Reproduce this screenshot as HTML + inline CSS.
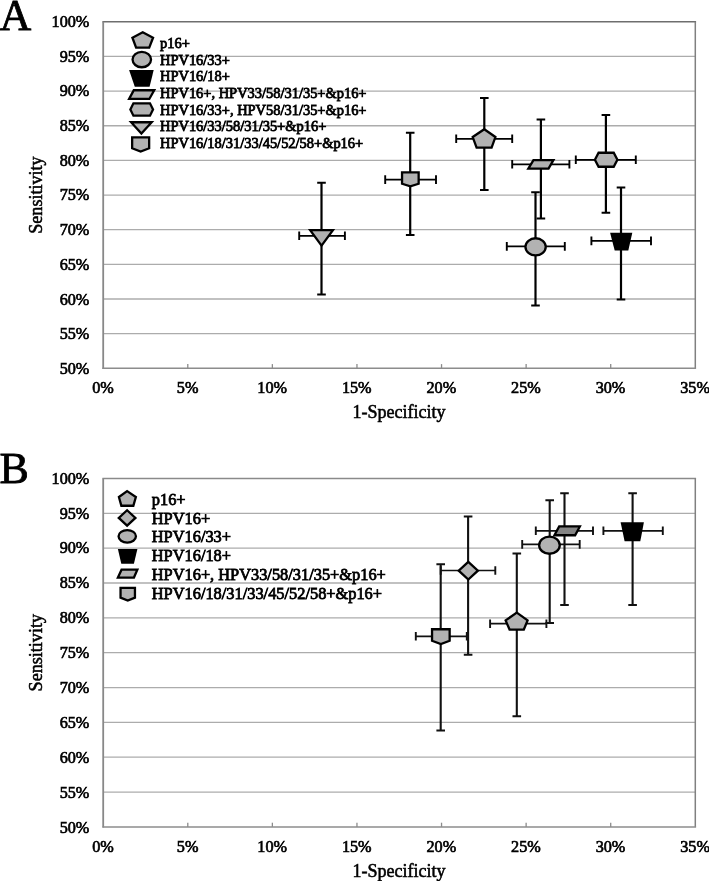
<!DOCTYPE html><html><head><meta charset="utf-8"><title>Figure</title><style>
html,body{margin:0;padding:0;background:#fff}body{width:709px;height:881px;overflow:hidden;position:relative}
svg{position:absolute;left:0;top:0;display:block}
text{font-family:"Liberation Serif",serif;fill:#000;stroke:#000;stroke-width:0.25px}
.tk{font-size:16.2px;stroke-width:0.65px}.ti{font-size:18px;stroke-width:0.55px}.lg{font-size:14.45px;stroke-width:0.8px}.lgb{font-size:16.38px;stroke-width:0.8px}.pl{font-size:44px;stroke-width:0.8px}
</style></head><body>
<svg width="709" height="881" viewBox="0 0 709 881">
<rect width="709" height="881" fill="#fff"/>
<line x1="103.2" y1="56.45" x2="695.3" y2="56.45" stroke="#acacac" stroke-width="1.3"/>
<line x1="103.2" y1="91.10" x2="695.3" y2="91.10" stroke="#acacac" stroke-width="1.3"/>
<line x1="103.2" y1="125.75" x2="695.3" y2="125.75" stroke="#acacac" stroke-width="1.3"/>
<line x1="103.2" y1="160.40" x2="695.3" y2="160.40" stroke="#acacac" stroke-width="1.3"/>
<line x1="103.2" y1="195.05" x2="695.3" y2="195.05" stroke="#acacac" stroke-width="1.3"/>
<line x1="103.2" y1="229.70" x2="695.3" y2="229.70" stroke="#acacac" stroke-width="1.3"/>
<line x1="103.2" y1="264.35" x2="695.3" y2="264.35" stroke="#acacac" stroke-width="1.3"/>
<line x1="103.2" y1="299.00" x2="695.3" y2="299.00" stroke="#acacac" stroke-width="1.3"/>
<line x1="103.2" y1="333.65" x2="695.3" y2="333.65" stroke="#acacac" stroke-width="1.3"/>
<line x1="102.4" y1="21.80" x2="696.0999999999999" y2="21.80" stroke="#6e6e6e" stroke-width="1.6"/>
<line x1="695.3" y1="21.80" x2="695.3" y2="368.30" stroke="#808080" stroke-width="1.5"/>
<line x1="103.2" y1="21.80" x2="103.2" y2="369.00" stroke="#888" stroke-width="1.8"/>
<line x1="102.4" y1="368.30" x2="696.0999999999999" y2="368.30" stroke="#8c8c8c" stroke-width="1.5"/>
<line x1="187.79" y1="364.10" x2="187.79" y2="368.30" stroke="#8c8c8c" stroke-width="1.3"/>
<line x1="272.37" y1="364.10" x2="272.37" y2="368.30" stroke="#8c8c8c" stroke-width="1.3"/>
<line x1="356.96" y1="364.10" x2="356.96" y2="368.30" stroke="#8c8c8c" stroke-width="1.3"/>
<line x1="441.54" y1="364.10" x2="441.54" y2="368.30" stroke="#8c8c8c" stroke-width="1.3"/>
<line x1="526.13" y1="364.10" x2="526.13" y2="368.30" stroke="#8c8c8c" stroke-width="1.3"/>
<line x1="610.71" y1="364.10" x2="610.71" y2="368.30" stroke="#8c8c8c" stroke-width="1.3"/>
<text x="89.3" y="26.95" text-anchor="end" class="tk">100%</text>
<text x="89.3" y="61.65" text-anchor="end" class="tk">95%</text>
<text x="89.3" y="96.35" text-anchor="end" class="tk">90%</text>
<text x="89.3" y="131.05" text-anchor="end" class="tk">85%</text>
<text x="89.3" y="165.75" text-anchor="end" class="tk">80%</text>
<text x="89.3" y="200.45" text-anchor="end" class="tk">75%</text>
<text x="89.3" y="235.15" text-anchor="end" class="tk">70%</text>
<text x="89.3" y="269.85" text-anchor="end" class="tk">65%</text>
<text x="89.3" y="304.55" text-anchor="end" class="tk">60%</text>
<text x="89.3" y="339.25" text-anchor="end" class="tk">55%</text>
<text x="89.3" y="373.95" text-anchor="end" class="tk">50%</text>
<text x="103.00" y="393.00" text-anchor="middle" class="tk">0%</text>
<text x="187.59" y="393.00" text-anchor="middle" class="tk">5%</text>
<text x="272.17" y="393.00" text-anchor="middle" class="tk">10%</text>
<text x="356.76" y="393.00" text-anchor="middle" class="tk">15%</text>
<text x="441.34" y="393.00" text-anchor="middle" class="tk">20%</text>
<text x="525.93" y="393.00" text-anchor="middle" class="tk">25%</text>
<text x="610.51" y="393.00" text-anchor="middle" class="tk">30%</text>
<text x="695.10" y="393.00" text-anchor="middle" class="tk">35%</text>
<text x="399.1" y="418.00" text-anchor="middle" class="ti">1-Specificity</text>
<text transform="translate(42.0,195.05) rotate(-90)" text-anchor="middle" class="ti" style="font-size:18.1px">Sensitivity</text>
<text x="-0.5" y="29.7" class="pl">A</text>
<g stroke="#000" fill="none">
<path d="M410.20 132.70V234.90" stroke-width="2.2"/>
<path d="M405.90 132.70H414.50M405.90 234.90H414.50" stroke-width="2.0"/>
<path d="M385.20 179.60H436.00" stroke-width="1.8"/>
<path d="M385.20 175.30V183.90M436.00 175.30V183.90" stroke-width="1.9"/>
</g>
<g stroke="#000" fill="none">
<path d="M321.50 182.70V294.50" stroke-width="2.2"/>
<path d="M317.20 182.70H325.80M317.20 294.50H325.80" stroke-width="2.0"/>
<path d="M299.20 235.80H344.90" stroke-width="1.8"/>
<path d="M299.20 231.50V240.10M344.90 231.50V240.10" stroke-width="1.9"/>
</g>
<g stroke="#000" fill="none">
<path d="M484.30 98.10V190.00" stroke-width="2.2"/>
<path d="M480.00 98.10H488.60M480.00 190.00H488.60" stroke-width="2.0"/>
<path d="M456.20 138.80H512.20" stroke-width="1.8"/>
<path d="M456.20 134.50V143.10M512.20 134.50V143.10" stroke-width="1.9"/>
</g>
<g stroke="#000" fill="none">
<path d="M540.90 119.40V218.40" stroke-width="2.2"/>
<path d="M536.60 119.40H545.20M536.60 218.40H545.20" stroke-width="2.0"/>
<path d="M512.20 164.30H569.40" stroke-width="1.8"/>
<path d="M512.20 160.00V168.60M569.40 160.00V168.60" stroke-width="1.9"/>
</g>
<g stroke="#000" fill="none">
<path d="M605.90 115.00V212.80" stroke-width="2.2"/>
<path d="M601.60 115.00H610.20M601.60 212.80H610.20" stroke-width="2.0"/>
<path d="M575.80 159.80H635.80" stroke-width="1.8"/>
<path d="M575.80 155.50V164.10M635.80 155.50V164.10" stroke-width="1.9"/>
</g>
<g stroke="#000" fill="none">
<path d="M535.50 192.30V305.50" stroke-width="2.2"/>
<path d="M531.20 192.30H539.80M531.20 305.50H539.80" stroke-width="2.0"/>
<path d="M506.80 246.40H564.80" stroke-width="1.8"/>
<path d="M506.80 242.10V250.70M564.80 242.10V250.70" stroke-width="1.9"/>
</g>
<g stroke="#000" fill="none">
<path d="M621.00 187.40V299.60" stroke-width="2.2"/>
<path d="M616.70 187.40H625.30M616.70 299.60H625.30" stroke-width="2.0"/>
<path d="M591.40 240.90H651.00" stroke-width="1.8"/>
<path d="M591.40 236.60V245.20M651.00 236.60V245.20" stroke-width="1.9"/>
</g>
<path d="M402.05 172.45L418.65 172.45L418.65 183.76L410.35 186.39L402.05 183.76Z" fill="#b2b2b2" stroke="#000" stroke-width="2.3" stroke-linejoin="miter" stroke-miterlimit="10"/>
<path d="M310.18 230.15L332.92 230.15L321.55 245.56Z" fill="#b2b2b2" stroke="#000" stroke-width="2.3" stroke-linejoin="miter" stroke-miterlimit="10"/>
<path d="M484.29 129.20L495.42 137.03L491.59 147.55L476.60 147.55L472.69 137.05Z" fill="#b2b2b2" stroke="#000" stroke-width="2.3" stroke-linejoin="miter" stroke-miterlimit="10"/>
<path d="M533.45 160.05L553.42 160.05L548.53 168.65L528.32 168.65Z" fill="#b2b2b2" stroke="#000" stroke-width="2.3" stroke-linejoin="miter" stroke-miterlimit="10"/>
<path d="M594.90 159.75L598.59 152.75L613.71 152.75L617.40 159.75L613.71 166.75L598.59 166.75Z" fill="#b2b2b2" stroke="#000" stroke-width="2.3" stroke-linejoin="miter" stroke-miterlimit="10"/>
<ellipse cx="535.60" cy="246.85" rx="10.15" ry="8.60" fill="#b2b2b2" stroke="#000" stroke-width="2.3"/>
<path d="M610.10 232.80L632.30 232.80L628.30 250.40L614.70 250.40Z" fill="#000"/>
<path d="M142.70 32.30L153.05 37.74L149.22 47.55L136.10 47.55L132.43 37.74Z" fill="#b2b2b2" stroke="#000" stroke-width="2.3" stroke-linejoin="miter" stroke-miterlimit="10"/>
<ellipse cx="141.80" cy="59.60" rx="9.25" ry="7.65" fill="#b2b2b2" stroke="#000" stroke-width="2.3"/>
<path d="M129.10 70.00L153.70 70.00L149.60 86.80L134.80 86.80Z" fill="#000"/>
<path d="M133.79 90.25L154.23 90.25L149.33 98.95L129.12 98.95Z" fill="#b2b2b2" stroke="#000" stroke-width="2.3" stroke-linejoin="miter" stroke-miterlimit="10"/>
<path d="M130.38 109.50L133.42 103.35L149.98 103.35L153.02 109.50L149.98 115.65L133.42 115.65Z" fill="#b2b2b2" stroke="#000" stroke-width="2.3" stroke-linejoin="miter" stroke-miterlimit="10"/>
<path d="M131.11 122.25L151.69 122.25L141.40 133.50Z" fill="#b2b2b2" stroke="#000" stroke-width="2.3" stroke-linejoin="miter" stroke-miterlimit="10"/>
<path d="M132.15 137.45L149.15 137.45L149.15 148.30L140.65 151.47L132.15 148.30Z" fill="#b2b2b2" stroke="#000" stroke-width="2.3" stroke-linejoin="miter" stroke-miterlimit="10"/>
<text x="160.0" y="47.90" class="lg">p16+</text>
<text x="160.0" y="64.58" class="lg">HPV16/33+</text>
<text x="160.0" y="81.26" class="lg">HPV16/18+</text>
<text x="160.0" y="97.94" class="lg">HPV16+, HPV33/58/31/35+&amp;p16+</text>
<text x="160.0" y="114.62" class="lg">HPV16/33+, HPV58/31/35+&amp;p16+</text>
<text x="160.0" y="131.30" class="lg">HPV16/33/58/31/35+&amp;p16+</text>
<text x="160.0" y="147.98" class="lg">HPV16/18/31/33/45/52/58+&amp;p16+</text>
<line x1="103.2" y1="513.34" x2="695.3" y2="513.34" stroke="#acacac" stroke-width="1.3"/>
<line x1="103.2" y1="548.18" x2="695.3" y2="548.18" stroke="#acacac" stroke-width="1.3"/>
<line x1="103.2" y1="583.02" x2="695.3" y2="583.02" stroke="#acacac" stroke-width="1.3"/>
<line x1="103.2" y1="617.86" x2="695.3" y2="617.86" stroke="#acacac" stroke-width="1.3"/>
<line x1="103.2" y1="652.70" x2="695.3" y2="652.70" stroke="#acacac" stroke-width="1.3"/>
<line x1="103.2" y1="687.54" x2="695.3" y2="687.54" stroke="#acacac" stroke-width="1.3"/>
<line x1="103.2" y1="722.38" x2="695.3" y2="722.38" stroke="#acacac" stroke-width="1.3"/>
<line x1="103.2" y1="757.22" x2="695.3" y2="757.22" stroke="#acacac" stroke-width="1.3"/>
<line x1="103.2" y1="792.06" x2="695.3" y2="792.06" stroke="#acacac" stroke-width="1.3"/>
<line x1="102.4" y1="478.50" x2="696.0999999999999" y2="478.50" stroke="#8a8a8a" stroke-width="1.6"/>
<line x1="695.3" y1="478.50" x2="695.3" y2="826.90" stroke="#808080" stroke-width="1.5"/>
<line x1="103.2" y1="478.50" x2="103.2" y2="827.60" stroke="#888" stroke-width="1.8"/>
<line x1="102.4" y1="826.90" x2="696.0999999999999" y2="826.90" stroke="#8c8c8c" stroke-width="1.5"/>
<line x1="187.79" y1="822.70" x2="187.79" y2="826.90" stroke="#8c8c8c" stroke-width="1.3"/>
<line x1="272.37" y1="822.70" x2="272.37" y2="826.90" stroke="#8c8c8c" stroke-width="1.3"/>
<line x1="356.96" y1="822.70" x2="356.96" y2="826.90" stroke="#8c8c8c" stroke-width="1.3"/>
<line x1="441.54" y1="822.70" x2="441.54" y2="826.90" stroke="#8c8c8c" stroke-width="1.3"/>
<line x1="526.13" y1="822.70" x2="526.13" y2="826.90" stroke="#8c8c8c" stroke-width="1.3"/>
<line x1="610.71" y1="822.70" x2="610.71" y2="826.90" stroke="#8c8c8c" stroke-width="1.3"/>
<text x="89.3" y="483.65" text-anchor="end" class="tk">100%</text>
<text x="89.3" y="518.54" text-anchor="end" class="tk">95%</text>
<text x="89.3" y="553.43" text-anchor="end" class="tk">90%</text>
<text x="89.3" y="588.32" text-anchor="end" class="tk">85%</text>
<text x="89.3" y="623.21" text-anchor="end" class="tk">80%</text>
<text x="89.3" y="658.10" text-anchor="end" class="tk">75%</text>
<text x="89.3" y="692.99" text-anchor="end" class="tk">70%</text>
<text x="89.3" y="727.88" text-anchor="end" class="tk">65%</text>
<text x="89.3" y="762.77" text-anchor="end" class="tk">60%</text>
<text x="89.3" y="797.66" text-anchor="end" class="tk">55%</text>
<text x="89.3" y="832.55" text-anchor="end" class="tk">50%</text>
<text x="103.00" y="851.60" text-anchor="middle" class="tk">0%</text>
<text x="187.59" y="851.60" text-anchor="middle" class="tk">5%</text>
<text x="272.17" y="851.60" text-anchor="middle" class="tk">10%</text>
<text x="356.76" y="851.60" text-anchor="middle" class="tk">15%</text>
<text x="441.34" y="851.60" text-anchor="middle" class="tk">20%</text>
<text x="525.93" y="851.60" text-anchor="middle" class="tk">25%</text>
<text x="610.51" y="851.60" text-anchor="middle" class="tk">30%</text>
<text x="695.10" y="851.60" text-anchor="middle" class="tk">35%</text>
<text x="399.1" y="876.60" text-anchor="middle" class="ti">1-Specificity</text>
<text transform="translate(42.0,652.70) rotate(-90)" text-anchor="middle" class="ti" style="font-size:18.1px">Sensitivity</text>
<text x="-0.6" y="482.5" class="pl">B</text>
<g stroke="#111" fill="none">
<path d="M440.70 564.20V730.60" stroke-width="2.1"/>
<path d="M436.40 564.20H445.00M436.40 730.60H445.00" stroke-width="2.0"/>
<path d="M415.80 636.30H466.80" stroke-width="1.7"/>
<path d="M415.80 632.00V640.60M466.80 632.00V640.60" stroke-width="1.9"/>
</g>
<g stroke="#111" fill="none">
<path d="M468.10 516.60V654.80" stroke-width="2.1"/>
<path d="M463.80 516.60H472.40M463.80 654.80H472.40" stroke-width="2.0"/>
<path d="M440.70 570.50H495.30" stroke-width="1.7"/>
<path d="M440.70 566.20V574.80M495.30 566.20V574.80" stroke-width="1.9"/>
</g>
<g stroke="#111" fill="none">
<path d="M516.80 553.60V716.30" stroke-width="2.1"/>
<path d="M512.50 553.60H521.10M512.50 716.30H521.10" stroke-width="2.0"/>
<path d="M490.10 623.70H546.40" stroke-width="1.7"/>
<path d="M490.10 619.40V628.00M546.40 619.40V628.00" stroke-width="1.9"/>
</g>
<g stroke="#111" fill="none">
<path d="M549.70 500.20V622.90" stroke-width="2.1"/>
<path d="M545.40 500.20H554.00M545.40 622.90H554.00" stroke-width="2.0"/>
<path d="M522.20 544.40H579.70" stroke-width="1.7"/>
<path d="M522.20 540.10V548.70M579.70 540.10V548.70" stroke-width="1.9"/>
</g>
<g stroke="#111" fill="none">
<path d="M564.50 493.20V604.90" stroke-width="2.1"/>
<path d="M560.20 493.20H568.80M560.20 604.90H568.80" stroke-width="2.0"/>
<path d="M535.80 530.80H593.00" stroke-width="1.7"/>
<path d="M535.80 526.50V535.10M593.00 526.50V535.10" stroke-width="1.9"/>
</g>
<g stroke="#111" fill="none">
<path d="M632.60 493.20V604.90" stroke-width="2.1"/>
<path d="M628.30 493.20H636.90M628.30 604.90H636.90" stroke-width="2.0"/>
<path d="M603.40 530.80H662.80" stroke-width="1.7"/>
<path d="M603.40 526.50V535.10M662.80 526.50V535.10" stroke-width="1.9"/>
</g>
<path d="M432.05 629.25L449.65 629.25L449.65 640.79L440.85 643.98L432.05 640.79Z" fill="#b2b2b2" stroke="#000" stroke-width="2.3" stroke-linejoin="miter" stroke-miterlimit="10"/>
<path d="M468.30 561.86L477.90 570.70L468.30 579.54L458.70 570.70Z" fill="#b2b2b2" stroke="#000" stroke-width="2.3" stroke-linejoin="miter" stroke-miterlimit="10"/>
<path d="M516.79 612.61L527.59 620.40L523.83 629.55L509.56 629.55L505.63 620.41Z" fill="#b2b2b2" stroke="#000" stroke-width="2.3" stroke-linejoin="miter" stroke-miterlimit="10"/>
<path d="M559.19 526.45L579.87 526.45L575.11 535.25L554.43 535.25Z" fill="#858585" stroke="#000" stroke-width="2.3" stroke-linejoin="miter" stroke-miterlimit="10"/>
<ellipse cx="549.45" cy="545.20" rx="10.30" ry="8.55" fill="#b2b2b2" stroke="#000" stroke-width="2.3"/>
<path d="M620.60 522.30L643.90 522.30L640.30 541.20L624.60 541.20Z" fill="#000"/>
<path d="M127.12 491.11L135.86 497.08L133.34 505.75L121.37 505.75L118.92 497.06Z" fill="#b2b2b2" stroke="#000" stroke-width="2.3" stroke-linejoin="miter" stroke-miterlimit="10"/>
<path d="M127.10 510.27L135.41 517.95L127.10 525.63L118.79 517.95Z" fill="#b2b2b2" stroke="#000" stroke-width="2.3" stroke-linejoin="miter" stroke-miterlimit="10"/>
<ellipse cx="127.25" cy="536.30" rx="8.70" ry="6.25" fill="#b2b2b2" stroke="#000" stroke-width="2.3"/>
<path d="M117.90 549.10L137.40 549.10L133.90 563.70L121.30 563.70Z" fill="#000"/>
<path d="M121.54 569.65L137.35 569.65L133.94 577.55L117.90 577.55Z" fill="#b2b2b2" stroke="#000" stroke-width="2.3" stroke-linejoin="miter" stroke-miterlimit="10"/>
<path d="M120.55 587.85L134.95 587.85L134.95 597.62L127.75 600.46L120.55 597.62Z" fill="#b2b2b2" stroke="#000" stroke-width="2.3" stroke-linejoin="miter" stroke-miterlimit="10"/>
<text x="151.8" y="504.80" class="lgb">p16+</text>
<text x="151.8" y="523.55" class="lgb">HPV16+</text>
<text x="151.8" y="542.30" class="lgb">HPV16/33+</text>
<text x="151.8" y="561.05" class="lgb">HPV16/18+</text>
<text x="151.8" y="579.80" class="lgb">HPV16+, HPV33/58/31/35+&amp;p16+</text>
<text x="151.8" y="598.55" class="lgb">HPV16/18/31/33/45/52/58+&amp;p16+</text>
</svg></body></html>
